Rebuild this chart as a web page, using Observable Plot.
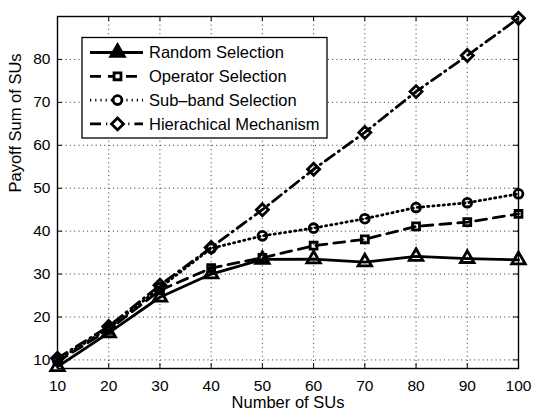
<!DOCTYPE html>
<html><head><meta charset="utf-8">
<script src="https://cdn.jsdelivr.net/npm/d3@7"></script>
<script src="https://cdn.jsdelivr.net/npm/@observablehq/plot@0.6"></script>
<style>
body{margin:0;background:#fff}
svg{font-family:"Liberation Sans",Arial,Helvetica,sans-serif}
</style>
</head><body><div id="chart"></div>
<script>
// ---- data ----
const numSUs = [10, 20, 30, 40, 50, 60, 70, 80, 90, 100];
const randomSelection   = [8.4, 16.3, 24.6, 30.0, 33.4, 33.5, 32.8, 34.1, 33.6, 33.3];
const operatorSelection = [9.6, 17.0, 26.2, 31.4, 33.8, 36.6, 38.1, 41.1, 42.1, 44.0];
const subbandSelection  = [10.0, 17.4, 26.8, 36.0, 38.9, 40.7, 42.9, 45.5, 46.6, 48.7];
const hierachical       = [10.4, 17.8, 27.4, 36.2, 45.0, 54.4, 63.0, 72.5, 80.9, 89.6];
const seriesNames = ["Random Selection", "Operator Selection", "Sub\u2013band Selection", "Hierachical Mechanism"];
const xTicks = [10, 20, 30, 40, 50, 60, 70, 80, 90, 100];
const yTicks = [10, 20, 30, 40, 50, 60, 70, 80];
const xLabel = "Number of SUs";
const yLabel = "Payoff Sum of SUs";

// ---- styles ----
const styles = [
  {symbol: "triangle", r: 5.0, dash: null},
  {symbol: "square", r: 3.9, dash: "11,7"},
  {symbol: "circle", r: 4.4, dash: "1.2,4"},
  {symbol: "diamond2", r: 5.4, dash: "11,5,1.2,5"}
];
const allValues = [randomSelection, operatorSelection, subbandSelection, hierachical];
const series = seriesNames.map((name, k) => ({
  name, ...styles[k],
  data: numSUs.map((x, i) => ({x, y: allValues[k][i]}))
}));

const W = 533, H = 410, mL = 57, mR = 15, mT = 16, mB = 42;
const innerW = W - mL - mR, innerH = H - mT - mB;

const marks = [
  Plot.gridX(xTicks, {stroke: "#000", strokeOpacity: 0.8, strokeWidth: 1, strokeDasharray: "1,3.3"}),
  Plot.gridY(yTicks, {stroke: "#000", strokeOpacity: 0.8, strokeWidth: 1, strokeDasharray: "1,3.3"}),
  Plot.tickX(xTicks, {stroke: "#000", strokeWidth: 1, insetTop: innerH - 5}),
  Plot.tickX(xTicks, {stroke: "#000", strokeWidth: 1, insetBottom: innerH - 5}),
  Plot.tickY(yTicks, {stroke: "#000", strokeWidth: 1, insetRight: innerW - 5}),
  Plot.tickY(yTicks, {stroke: "#000", strokeWidth: 1, insetLeft: innerW - 5}),
  Plot.frame({stroke: "#000", strokeWidth: 1.4}),
  Plot.axisX({ticks: xTicks, tickSize: 0, tickPadding: 11, fontSize: 15.5, label: null, tickFormat: d => String(d)}),
  Plot.axisY({ticks: yTicks, tickSize: 0, tickPadding: 7, fontSize: 15.5, label: null, tickFormat: d => String(d)}),
  Plot.text([xLabel], {frameAnchor: "bottom", text: d => d, lineAnchor: "bottom", dy: 39.5, fontSize: 16.5, fill: "#000"}),
  Plot.text([yLabel], {frameAnchor: "left", text: d => d, rotate: -90, lineAnchor: "middle", dx: -41.5, fontSize: 16.5, fill: "#000"})
];
for (const s of series) {
  marks.push(Plot.line(s.data, {x: "x", y: "y", stroke: "#000", strokeWidth: 2.8, strokeDasharray: s.dash}));
  marks.push(Plot.dot(s.data, {x: "x", y: "y", symbol: s.symbol, r: s.r, stroke: "#000", strokeWidth: 2.8, fill: "none"}));
}

const chart = Plot.plot({
  width: W, height: H,
  marginLeft: mL, marginRight: mR, marginTop: mT, marginBottom: mB,
  style: {background: "#fff", color: "#000", fontFamily: "'Liberation Sans', Arial, sans-serif"},
  x: {domain: [10, 100]},
  y: {domain: [8, 90]},
  marks
});
document.getElementById("chart").append(chart);

// ---- legend ----
const svg = d3.select(chart);
const lg = svg.append("g").attr("transform", "translate(82,37.5)");
lg.append("rect").attr("width", 245).attr("height", 100.5)
  .attr("fill", "#fff").attr("stroke", "#000").attr("stroke-width", 1.3);
const symGen = {triangle: d3.symbolTriangle, square: d3.symbolSquare, circle: d3.symbolCircle, diamond2: d3.symbolDiamond2};
series.forEach((s, i) => {
  const y = 15 + i * 23.8;
  const row = lg.append("g").attr("transform", `translate(0,${y})`);
  row.append("line").attr("x1", 8).attr("x2", 61).attr("y1", 0).attr("y2", 0)
    .attr("stroke", "#000").attr("stroke-width", 2.8)
    .attr("stroke-dasharray", s.dash);
  row.append("path").attr("transform", "translate(35.5,0)")
    .attr("d", d3.symbol(symGen[s.symbol], Math.PI * s.r * s.r)())
    .attr("fill", s.symbol === "triangle" ? "#000" : "#fff").attr("stroke", "#000").attr("stroke-width", 2.8);
  row.append("text").attr("x", 67).attr("y", 0).attr("dy", "0.35em")
    .attr("text-anchor", "start")
    .attr("font-size", 16.5).attr("fill", "#000").text(s.name);
});
</script>
</body></html>
